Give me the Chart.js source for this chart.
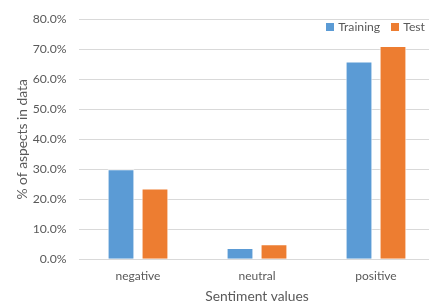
<!DOCTYPE html>
<html lang="en">
<head>
<meta charset="UTF-8"/>
<script src="https://cdn.jsdelivr.net/npm/chart.js@4/dist/chart.umd.min.js"></script>
<style>
  *{box-sizing:border-box;margin:0;padding:0}
  html,body{background:#fff;overflow:hidden}
  .wrap{width:436px;height:307px;position:relative}
  #legend{position:absolute;right:11px;top:19px;display:flex;gap:11px;font:12.2px Lato,'Open Sans',sans-serif;color:#595959}
  #legend span{display:flex;align-items:center;gap:4px;line-height:16px}
  #legend i{display:inline-block;width:8px;height:8px}
</style>
</head>
<body>
<div class="wrap"><canvas id="c"></canvas><div id="legend"></div></div>
<script>
// data
const categories = ['negative', 'neutral', 'positive'];
const training   = [30.0, 3.8, 65.9];
const test       = [23.6, 5.0, 71.1];
const yTicks     = [0, 10, 20, 30, 40, 50, 60, 70, 80];

const tc = '#595959', gc = '#d9d9d9';
const fam = "Lato, 'Open Sans', sans-serif";

const chart = new Chart(document.getElementById('c'), {
  type: 'bar',
  data: {
    labels: categories,
    datasets: [
      {label: 'Training', data: training, backgroundColor: '#5b9bd5', borderColor: '#ffffff', borderWidth: 1},
      {label: 'Test',     data: test,     backgroundColor: '#ed7d31', borderColor: '#ffffff', borderWidth: 1},
    ]
  },
  options: {
    responsive: true, maintainAspectRatio: false, animation: false,
    categoryPercentage: 0.571, barPercentage: 0.79,
    layout: {padding: {top: 13, right: 0.5, left: 0, bottom: 0}},
    plugins: {tooltip: {enabled: false}, legend: {display: false}},
    scales: {
      x: {
        grid: {display: false, drawTicks: false},
        border: {display: false},
        ticks: {color: tc, padding: 10, font: {family: fam, size: 12}},
        title: {display: true, text: 'Sentiment values', color: tc, padding: {top: 0, bottom: 2}, font: {family: fam, size: 13.8}},
        afterFit: (s) => { s.height = 47.7; }
      },
      y: {
        min: 0, max: 80,
        afterBuildTicks: (s) => { s.ticks = yTicks.map(v => ({value: v})); },
        grid: {color: gc, lineWidth: 1, drawTicks: false},
        border: {display: false},
        ticks: {color: tc, padding: 12, font: {family: fam, size: 12.2}, callback: (v) => v.toFixed(1) + '%'},
        title: {display: true, text: '% of aspects in data', color: tc, padding: {top: 14, bottom: 0}, font: {family: fam, size: 13.8}},
        afterFit: (s) => { s.width = 78.5; }
      }
    }
  }
});

// legend sits inside the plot area, top right, built from the datasets
document.getElementById('legend').innerHTML = chart.data.datasets
  .map(d => `<span><i style="background:${d.backgroundColor}"></i>${d.label}</span>`).join('');
</script>
</body>
</html>
